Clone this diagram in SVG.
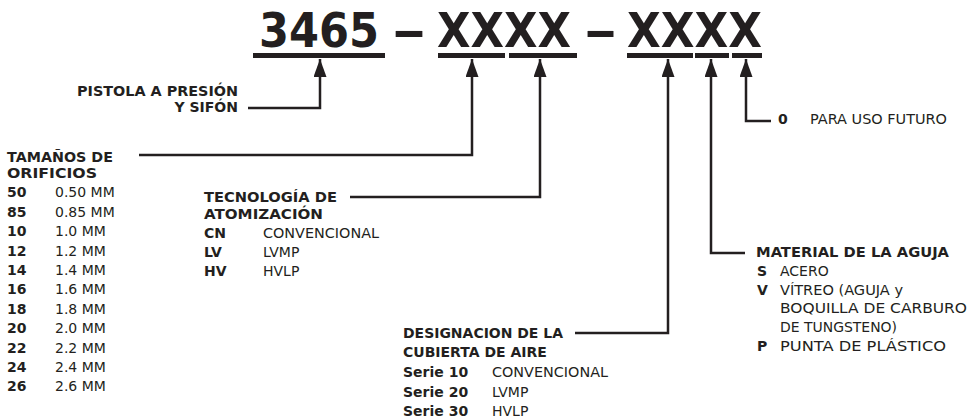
<svg xmlns="http://www.w3.org/2000/svg" width="969" height="419" viewBox="0 0 969 419">
<style>
text{font-family:"DejaVu Sans","Noto Sans",sans-serif;fill:#231f20;font-size:14px}
.b{font-weight:bold}
.t{font-family:"DejaVu Sans Condensed","DejaVu Sans",sans-serif;font-weight:bold;font-size:48px}
.ul{fill:#231f20}
.c{fill:none;stroke:#231f20;stroke-width:2.5;marker-start:url(#ah)}
</style>
<defs>
<marker id="ah" markerUnits="userSpaceOnUse" viewBox="0 0 18 13" markerWidth="18" markerHeight="13" refX="18" refY="6.5" orient="auto-start-reverse">
<path d="M0,0 L18,6.5 L0,13 Z" fill="#231f20"/>
</marker>
</defs>
<rect width="969" height="419" fill="#fff"/>
<g id="title">
<text class="t" x="259" y="47" textLength="120" lengthAdjust="spacingAndGlyphs">3465</text>
<text class="t" x="392" y="47" textLength="34" lengthAdjust="spacingAndGlyphs">–</text>
<text class="t" x="437" y="47" textLength="134" lengthAdjust="spacingAndGlyphs">XXXX</text>
<text class="t" x="584" y="47" textLength="33" lengthAdjust="spacingAndGlyphs">–</text>
<text class="t" x="627" y="47" textLength="135" lengthAdjust="spacingAndGlyphs">XXXX</text>
<rect class="ul" x="253" y="53" width="132" height="5"/>
<rect class="ul" x="438" y="53" width="67" height="5"/>
<rect class="ul" x="509" y="53" width="68" height="5"/>
<rect class="ul" x="627" y="53" width="66" height="5"/>
<rect class="ul" x="695" y="53" width="34" height="5"/>
<rect class="ul" x="732" y="53" width="30" height="5"/>
</g>
<g id="connectors">
<path class="c" d="M320,59 V108 H248"/>
<path class="c" d="M472,59 V155 H139"/>
<path class="c" d="M540,59 V197 H350"/>
<path class="c" d="M668,59 V333 H575"/>
<path class="c" d="M711,59 V253 H745"/>
<path class="c" d="M746,59 V121 H771"/>
</g>
<g id="pistola">
<text class="b" x="238" y="96" text-anchor="end" textLength="161" lengthAdjust="spacingAndGlyphs">PISTOLA A PRESIÓN</text>
<text class="b" x="238" y="112" text-anchor="end">Y SIFÓN</text>
</g>
<g id="tamanos">
<text class="b" x="7" y="162" textLength="106" lengthAdjust="spacingAndGlyphs">TAMAÑOS DE</text>
<text class="b" x="7" y="178" textLength="90" lengthAdjust="spacingAndGlyphs">ORIFICIOS</text>
<text class="b" x="7" y="197.3">50</text><text x="55" y="197.3">0.50 MM</text>
<text class="b" x="7" y="216.7">85</text><text x="55" y="216.7">0.85 MM</text>
<text class="b" x="7" y="236.1">10</text><text x="55" y="236.1">1.0 MM</text>
<text class="b" x="7" y="255.5">12</text><text x="55" y="255.5">1.2 MM</text>
<text class="b" x="7" y="274.9">14</text><text x="55" y="274.9">1.4 MM</text>
<text class="b" x="7" y="294.3">16</text><text x="55" y="294.3">1.6 MM</text>
<text class="b" x="7" y="313.7">18</text><text x="55" y="313.7">1.8 MM</text>
<text class="b" x="7" y="333.1">20</text><text x="55" y="333.1">2.0 MM</text>
<text class="b" x="7" y="352.5">22</text><text x="55" y="352.5">2.2 MM</text>
<text class="b" x="7" y="371.9">24</text><text x="55" y="371.9">2.4 MM</text>
<text class="b" x="7" y="391.3">26</text><text x="55" y="391.3">2.6 MM</text>
</g>
<g id="tecnologia">
<text class="b" x="204" y="202" textLength="133" lengthAdjust="spacingAndGlyphs">TECNOLOGÍA DE</text>
<text class="b" x="204" y="219" textLength="119" lengthAdjust="spacingAndGlyphs">ATOMIZACIÓN</text>
<text class="b" x="204" y="238">CN</text><text x="263" y="238" textLength="116" lengthAdjust="spacingAndGlyphs">CONVENCIONAL</text>
<text class="b" x="204" y="257">LV</text><text x="263" y="257">LVMP</text>
<text class="b" x="204" y="276">HV</text><text x="263" y="276">HVLP</text>
</g>
<g id="designacion">
<text class="b" x="403" y="338" textLength="160" lengthAdjust="spacingAndGlyphs">DESIGNACION DE LA</text>
<text class="b" x="403" y="357">CUBIERTA DE AIRE</text>
<text class="b" x="403" y="377">Serie 10</text><text x="492" y="377" textLength="116" lengthAdjust="spacingAndGlyphs">CONVENCIONAL</text>
<text class="b" x="403" y="397">Serie 20</text><text x="492" y="397">LVMP</text>
<text class="b" x="403" y="416">Serie 30</text><text x="492" y="416">HVLP</text>
</g>
<g id="material">
<text class="b" x="756" y="257" textLength="193" lengthAdjust="spacingAndGlyphs">MATERIAL DE LA AGUJA</text>
<text class="b" x="757" y="276">S</text><text x="780" y="276">ACERO</text>
<text class="b" x="757" y="295">V</text><text x="780" y="295" textLength="123" lengthAdjust="spacingAndGlyphs">VÍTREO (AGUJA y</text>
<text x="780" y="313" textLength="187" lengthAdjust="spacingAndGlyphs">BOQUILLA DE CARBURO</text>
<text x="780" y="332" textLength="117" lengthAdjust="spacingAndGlyphs">DE TUNGSTENO)</text>
<text class="b" x="757" y="351">P</text><text x="780" y="351" textLength="166" lengthAdjust="spacingAndGlyphs">PUNTA DE PLÁSTICO</text>
</g>
<g id="futuro">
<text class="b" x="778" y="124">0</text>
<text x="810" y="124" textLength="137" lengthAdjust="spacingAndGlyphs">PARA USO FUTURO</text>
</g>
</svg>
